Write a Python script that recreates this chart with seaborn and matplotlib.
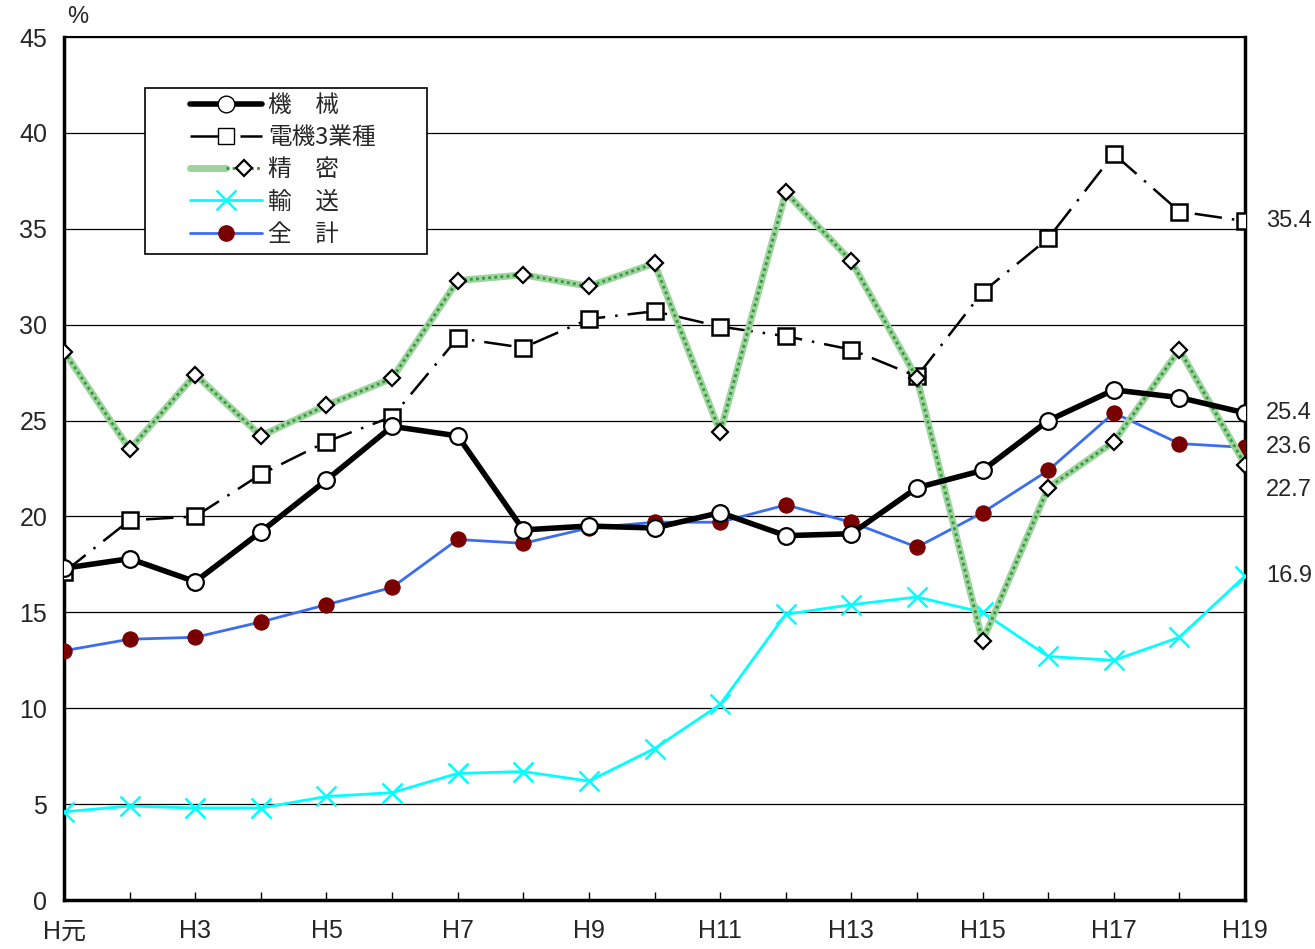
import numpy as np
import pandas as pd
import matplotlib
matplotlib.use("Agg")
import matplotlib.pyplot as plt
import matplotlib.patches as mpatches
from matplotlib.lines import Line2D
from matplotlib.legend_handler import HandlerTuple
import seaborn as sns

# ── DATA ─────────────────────────────────────
years = ["H元", "H2", "H3", "H4", "H5", "H6", "H7", "H8", "H9", "H10",
         "H11", "H12", "H13", "H14", "H15", "H16", "H17", "H18", "H19"]

kikai = [17.3, 17.8, 16.6, 19.2, 21.9, 24.7, 24.2, 19.3, 19.5, 19.4,
         20.2, 19.0, 19.1, 21.5, 22.4, 25.0, 26.6, 26.2, 25.4]
denki3 = [17.1, 19.8, 20.0, 22.2, 23.9, 25.2, 29.3, 28.8, 30.3, 30.7,
          29.9, 29.4, 28.7, 27.3, 31.7, 34.5, 38.9, 35.9, 35.4]
seimitsu = [28.6, 23.5, 27.4, 24.2, 25.8, 27.2, 32.3, 32.6, 32.0, 33.2,
            24.4, 36.9, 33.3, 27.2, 13.5, 21.5, 23.9, 28.7, 22.7]
yuso = [4.6, 4.9, 4.8, 4.8, 5.4, 5.6, 6.6, 6.7, 6.2, 7.9,
        10.2, 14.9, 15.4, 15.8, 15.0, 12.7, 12.5, 13.7, 16.9]
zenkei = [13.0, 13.6, 13.7, 14.5, 15.4, 16.3, 18.8, 18.6, 19.4, 19.7,
          19.7, 20.6, 19.7, 18.4, 20.2, 22.4, 25.4, 23.8, 23.6]

labels = ["機\u3000械", "電機3業種", "精\u3000密", "輸\u3000送", "全\u3000計"]

# ── STYLE ────────────────────────────────────
sns.set_theme(style="white")
plt.rcParams["font.family"] = ["Liberation Sans Narrow", "Liberation Sans",
                               "Noto Sans CJK JP", "DejaVu Sans"]
JP = ["Noto Sans CJK JP", "DejaVu Sans"]

GREEN_BG = "#9dd39d"
GREEN_FG = "#35983a"
DASH = (11, 4, 1, 4)

fig = plt.figure(figsize=(13.15, 9.49), dpi=100, facecolor="white")
ax = fig.add_axes([0.0487, 0.0516, 0.8981, 0.9094])

x = np.arange(len(years))
df = pd.DataFrame({"x": x, "kikai": kikai, "denki3": denki3,
                   "seimitsu": seimitsu, "yuso": yuso, "zenkei": zenkei})

# grid lines
for v in range(5, 46, 5):
    ax.axhline(v, color="black", lw=0.9, zorder=0)

# 全計
sns.lineplot(data=df, x="x", y="zenkei", ax=ax, color="#3a6df0", lw=2,
             marker="o", markersize=11, markerfacecolor="#7a0000",
             markeredgecolor="#7a0000", zorder=3)
# 輸送
sns.lineplot(data=df, x="x", y="yuso", ax=ax, color="#00ffff", lw=2,
             marker="x", markersize=14, markeredgewidth=1.8,
             markeredgecolor="#00ffff", zorder=3)
# 電機3業種
sns.lineplot(data=df, x="x", y="denki3", ax=ax, color="black", lw=1.8,
             dashes=DASH, marker="s", markersize=12,
             markerfacecolor="white", markeredgecolor="black",
             markeredgewidth=1.8, zorder=4)
# 精密 (hatched green)
ax.plot(x, seimitsu, color=GREEN_BG, lw=5, zorder=4.5)
ax.plot(x, seimitsu, color=GREEN_FG, lw=2, ls=(0, (1, 1.2)), zorder=4.6)
sns.lineplot(data=df, x="x", y="seimitsu", ax=ax, color="none", lw=0,
             marker="D", markersize=8, markerfacecolor="white",
             markeredgecolor="black", markeredgewidth=1.6, zorder=4.7)
# 機械
sns.lineplot(data=df, x="x", y="kikai", ax=ax, color="black", lw=4,
             marker="o", markersize=12, markerfacecolor="white",
             markeredgecolor="black", markeredgewidth=1.6, zorder=5)

# ── AXES ─────────────────────────────────────
ax.set_xlim(0, len(years) - 1)
ax.set_ylim(0, 45)
ax.set_yticks(range(0, 46, 5))
ax.set_xticks(x)
ax.set_xticklabels([y if i % 2 == 0 else "" for i, y in enumerate(years)])
ax.tick_params(axis="x", direction="in", length=6, width=1, pad=14,
               labelsize=18, bottom=True, color="black")
ax.tick_params(axis="y", length=0, pad=12, labelsize=18)
ax.set_xlabel("")
ax.set_ylabel("")
for s in ax.spines.values():
    s.set_color("black")
    s.set_linewidth(2.5)
ax.spines["top"].set_linewidth(1.5)

ax.text(0.003, 1.010, "%", transform=ax.transAxes, fontsize=17, ha="left",
        va="bottom")

# end value labels
for val, yoff in [(35.4, 0), (25.4, 0), (23.6, 0), (22.7, -1.3), (16.9, 0)]:
    ax.annotate(f"{val}", xy=(x[-1], val + yoff), xytext=(15, 0),
                textcoords="offset points", fontsize=17, va="center",
                annotation_clip=False)

# ── LEGEND ───────────────────────────────────
ax.add_patch(mpatches.Rectangle((0.0686, 0.7486), 0.2388, 0.1923,
                                transform=ax.transAxes, facecolor="white",
                                edgecolor="black", lw=1.2, zorder=9))
h_kikai = Line2D([], [], color="black", lw=4, marker="o", markersize=12,
                 markerfacecolor="white", markeredgecolor="black")
h_denki = Line2D([], [], color="black", lw=1.8, dashes=DASH,
                 marker="s", markersize=12, markerfacecolor="white",
                 markeredgecolor="black")
h_sei_a = Line2D([], [], color=GREEN_BG, lw=5)
h_sei_b = Line2D([], [], color=GREEN_FG, lw=2, ls=(0, (1, 1.2)), marker="D",
                 markersize=8, markerfacecolor="white", markeredgecolor="black",
                 markeredgewidth=1.6)
h_yuso = Line2D([], [], color="#00ffff", lw=2, marker="x", markersize=14,
                markeredgewidth=1.8)
h_zen = Line2D([], [], color="#3a6df0", lw=2, marker="o", markersize=11,
               markerfacecolor="#7a0000", markeredgecolor="#7a0000")
leg = ax.legend([h_kikai, h_denki, (h_sei_a, h_sei_b), h_yuso, h_zen], labels,
                handler_map={tuple: HandlerTuple(ndivide=None, pad=0)},
                loc="upper left", bbox_to_anchor=(0.1067, 0.934),
                prop={"family": JP, "size": 17}, handlelength=3.05,
                handletextpad=0.25, labelspacing=0.39, borderpad=0,
                borderaxespad=0, frameon=False)
leg.set_zorder(10)

fig.savefig("out.png", dpi=100, facecolor="white")
